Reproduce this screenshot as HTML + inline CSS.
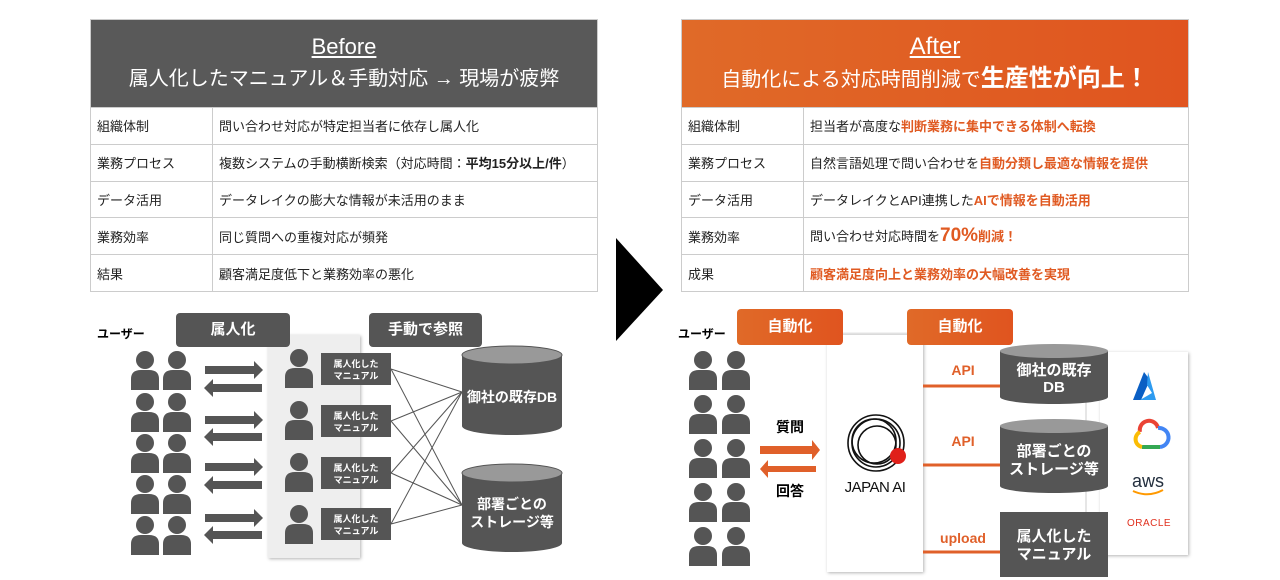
<!DOCTYPE html>
<html><head><meta charset="utf-8"><style>
*{margin:0;padding:0;box-sizing:border-box}
body{width:1280px;height:580px;background:#fff;position:relative;overflow:hidden;font-family:"Liberation Sans","Noto Sans CJK JP",sans-serif;color:#222}
.tbl{position:absolute;top:19px;width:508px;border:1px solid #ccc}
.hd{height:87px;color:#fff;text-align:center}
.hd .t1{font-size:22px;text-decoration:underline;padding-top:13px;line-height:28px}
.hd .t2{font-size:20px;line-height:30px;margin-top:3px}
.row{height:36.8px;border-top:1px solid #ccc;display:flex;font-size:13px;align-items:center}
.row .c1{padding-left:6px;height:100%;display:flex;align-items:center;border-right:1px solid #ccc}
.row .c2{padding-left:6px}
.o{color:#e05a22;font-weight:bold}
.lbl{position:absolute;border-radius:4px;color:#fff;font-weight:bold;font-size:15px;text-align:center;line-height:34px}
svg{position:absolute;left:0;top:0}
</style></head><body>
<div class="tbl" style="left:90px">
<div class="hd" style="background:#595959"><div class="t1">Before</div><div class="t2">属人化したマニュアル＆手動対応 → 現場が疲弊</div></div>
<div class="row"><div class="c1" style="width:122px">組織体制</div><div class="c2">問い合わせ対応が特定担当者に依存し属人化</div></div>
<div class="row"><div class="c1" style="width:122px">業務プロセス</div><div class="c2">複数システムの手動横断検索（対応時間：<b>平均15分以上/件</b>）</div></div>
<div class="row"><div class="c1" style="width:122px">データ活用</div><div class="c2">データレイクの膨大な情報が未活用のまま</div></div>
<div class="row"><div class="c1" style="width:122px">業務効率</div><div class="c2">同じ質問への重複対応が頻発</div></div>
<div class="row"><div class="c1" style="width:122px">結果</div><div class="c2">顧客満足度低下と業務効率の悪化</div></div>
</div>
<div class="tbl" style="left:681px">
<div class="hd" style="background:linear-gradient(90deg,#e06a28,#e0541f)"><div class="t1" style="font-size:24px">After</div><div class="t2">自動化による対応時間削減で<b style="font-size:24px">生産性が向上！</b></div></div>
<div class="row"><div class="c1" style="width:122px">組織体制</div><div class="c2">担当者が高度な<span class="o">判断業務に集中できる体制へ転換</span></div></div>
<div class="row"><div class="c1" style="width:122px">業務プロセス</div><div class="c2">自然言語処理で問い合わせを<span class="o">自動分類し最適な情報を提供</span></div></div>
<div class="row"><div class="c1" style="width:122px">データ活用</div><div class="c2">データレイクとAPI連携した<span class="o">AIで情報を自動活用</span></div></div>
<div class="row"><div class="c1" style="width:122px">業務効率</div><div class="c2">問い合わせ対応時間を<span class="o" style="font-size:19px">70%</span><span class="o">削減！</span></div></div>
<div class="row"><div class="c1" style="width:122px">成果</div><div class="c2"><span class="o">顧客満足度向上と業務効率の大幅改善を実現</span></div></div>
</div>

<svg width="1280" height="580" font-family="Liberation Sans,Noto Sans CJK JP,sans-serif">
<defs>
<symbol id="p" viewBox="0 0 28 40"><circle cx="14" cy="10" r="9" fill="#555"/><path d="M0 40 V29 Q0 20 10 20 H18 Q28 20 28 29 V40Z" fill="#555"/></symbol>
<filter id="sh"><feDropShadow dx="1" dy="1" stdDeviation="1.5" flood-opacity="0.3"/></filter>
</defs>
<polygon points="616,238 663,290 616,341" fill="#000"/>
<text x="97" y="338" font-size="12" font-weight="bold" fill="#000">ユーザー</text>
<g>
<use href="#p" x="131" y="350" width="28" height="40"/><use href="#p" x="163" y="350" width="28" height="40"/>
<use href="#p" x="131" y="392" width="28" height="40"/><use href="#p" x="163" y="392" width="28" height="40"/>
<use href="#p" x="131" y="433" width="28" height="40"/><use href="#p" x="163" y="433" width="28" height="40"/>
<use href="#p" x="131" y="474" width="28" height="40"/><use href="#p" x="163" y="474" width="28" height="40"/>
<use href="#p" x="131" y="515" width="28" height="40"/><use href="#p" x="163" y="515" width="28" height="40"/>
</g>
<g fill="#555">
<path d="M205 366h49v-5l9 9-9 9v-5h-49z"/><path d="M262 384h-49v-5l-9 9 9 9v-5h49z"/>
<path d="M205 416h49v-5l9 9-9 9v-5h-49z"/><path d="M262 433h-49v-5l-9 9 9 9v-5h49z"/>
<path d="M205 463h49v-5l9 9-9 9v-5h-49z"/><path d="M262 481h-49v-5l-9 9 9 9v-5h49z"/>
<path d="M205 514h49v-5l9 9-9 9v-5h-49z"/><path d="M262 531h-49v-5l-9 9 9 9v-5h49z"/>
</g>
<rect x="268" y="335" width="92" height="223" fill="#eee" filter="url(#sh)"/>
<use href="#p" x="285" y="348" width="28" height="40"/>
<use href="#p" x="285" y="400" width="28" height="40"/>
<use href="#p" x="285" y="452" width="28" height="40"/>
<use href="#p" x="285" y="504" width="28" height="40"/>
<g fill="#555">
<rect x="321" y="353" width="70" height="32"/><rect x="321" y="405" width="70" height="32"/><rect x="321" y="457" width="70" height="32"/><rect x="321" y="508" width="70" height="32"/>
</g>
<g fill="#fff" font-size="9" font-weight="bold" text-anchor="middle">
<text x="356" y="367">属人化した</text><text x="356" y="379">マニュアル</text>
<text x="356" y="419">属人化した</text><text x="356" y="431">マニュアル</text>
<text x="356" y="471">属人化した</text><text x="356" y="483">マニュアル</text>
<text x="356" y="522">属人化した</text><text x="356" y="534">マニュアル</text>
</g>
<g stroke="#555" stroke-width="1">
<line x1="391" y1="369" x2="462" y2="392"/><line x1="391" y1="369" x2="462" y2="505"/>
<line x1="391" y1="421" x2="462" y2="392"/><line x1="391" y1="421" x2="462" y2="505"/>
<line x1="391" y1="473" x2="462" y2="392"/><line x1="391" y1="473" x2="462" y2="505"/>
<line x1="391" y1="524" x2="462" y2="392"/><line x1="391" y1="524" x2="462" y2="505"/>
</g>
<g>
<path d="M462 355 V426 A50 9 0 0 0 562 426 V355Z" fill="#555"/><ellipse cx="512" cy="355" rx="50" ry="9" fill="#999" stroke="#555"/>
<path d="M462 473 V543 A50 9 0 0 0 562 543 V473Z" fill="#555"/><ellipse cx="512" cy="473" rx="50" ry="9" fill="#999" stroke="#555"/>
</g>
<g fill="#fff" font-size="14" font-weight="bold" text-anchor="middle">
<text x="512" y="402">御社の既存DB</text>
<text x="512" y="509">部署ごとの</text><text x="512" y="527">ストレージ等</text>
</g>
<line x1="843" y1="334" x2="907" y2="334" stroke="#e6e6e6" stroke-width="3"/>
<text x="678" y="338" font-size="12" font-weight="bold" fill="#000">ユーザー</text>
<g>
<use href="#p" x="689" y="350" width="28" height="40"/><use href="#p" x="722" y="350" width="28" height="40"/>
<use href="#p" x="689" y="394" width="28" height="40"/><use href="#p" x="722" y="394" width="28" height="40"/>
<use href="#p" x="689" y="438" width="28" height="40"/><use href="#p" x="722" y="438" width="28" height="40"/>
<use href="#p" x="689" y="482" width="28" height="40"/><use href="#p" x="722" y="482" width="28" height="40"/>
<use href="#p" x="689" y="526" width="28" height="40"/><use href="#p" x="722" y="526" width="28" height="40"/>
</g>
<g fill="#000" font-size="14" font-weight="bold" text-anchor="middle"><text x="790" y="432">質問</text><text x="790" y="496">回答</text></g>
<g fill="#e0602a">
<path d="M760 446h52v-6l8 10-8 10v-6h-52z"/><path d="M816 466h-48v-6l-8 9 8 9v-6h48z"/>
</g>
<rect x="827" y="335" width="96" height="237" fill="#fff" filter="url(#sh)"/>
<g fill="none" stroke="#111" stroke-width="1.6">
<circle cx="876" cy="443" r="28"/><circle cx="876" cy="443" r="24"/><circle cx="874" cy="441" r="22"/><circle cx="877" cy="445" r="19"/>
</g>
<circle cx="898" cy="456" r="8" fill="#e0201a"/>
<text x="875" y="492" font-size="15" fill="#111" text-anchor="middle" letter-spacing="-0.5">JAPAN AI</text>
<g stroke="#e0602a" stroke-width="3">
<line x1="923" y1="386" x2="1000" y2="386"/><line x1="923" y1="465" x2="1000" y2="465"/><line x1="923" y1="552" x2="1000" y2="552"/>
</g>
<g fill="#e0602a" font-size="14" font-weight="bold" text-anchor="middle">
<text x="963" y="375">API</text><text x="963" y="446">API</text><text x="963" y="543">upload</text>
</g>
<rect x="1100" y="352" width="88" height="203" fill="#fff" filter="url(#sh)"/>
<line x1="1086" y1="400" x2="1086" y2="515" stroke="#ccc"/>
<path d="M1000 351 V397 A54 7 0 0 0 1108 397 V351Z" fill="#555"/><ellipse cx="1054" cy="351" rx="54" ry="7" fill="#999"/>
<path d="M1000 426 V486 A54 7 0 0 0 1108 486 V426Z" fill="#555"/><ellipse cx="1054" cy="426" rx="54" ry="7" fill="#999"/>
<rect x="1000" y="512" width="108" height="65" fill="#555"/>
<g fill="#fff" font-size="15" font-weight="bold" text-anchor="middle">
<text x="1054" y="375">御社の既存</text><text x="1054" y="392">DB</text>
<text x="1054" y="456">部署ごとの</text><text x="1054" y="474">ストレージ等</text>
<text x="1054" y="541">属人化した</text><text x="1054" y="559">マニュアル</text>
</g>
<path d="M1144 372 L1133 400 H1141 L1150 380Z" fill="#0a5fc4"/><path d="M1148 372 L1156 400 H1140 L1152 393 L1147 385Z" fill="#2d9bf0"/>
<g fill="none" stroke-width="4">
<path d="M1140 432 A9 9 0 0 1 1158 428" stroke="#ea4335"/><path d="M1158 428 A8 8 0 0 1 1160 447" stroke="#4285f4"/>
<path d="M1160 447 H1142" stroke="#34a853"/><path d="M1142 447 A8 8 0 0 1 1140 432" stroke="#fbbc04"/>
</g>
<text x="1148" y="487" font-size="18" fill="#232f3e" text-anchor="middle">aws</text>
<path d="M1133 491 Q1148 498 1163 490" stroke="#f90" stroke-width="2" fill="none"/>
<text x="1149" y="526" font-size="10" fill="#e0301e" text-anchor="middle" letter-spacing="0.5">ORACLE</text>
</svg>
<div class="lbl" style="left:176px;top:313px;width:114px;height:34px;background:#555">属人化</div>
<div class="lbl" style="left:369px;top:313px;width:113px;height:34px;background:#555">手動で参照</div>
<div class="lbl" style="left:737px;top:309px;width:106px;height:36px;line-height:36px;background:linear-gradient(90deg,#e06a28,#e0541f)">自動化</div>
<div class="lbl" style="left:907px;top:309px;width:106px;height:36px;line-height:36px;background:linear-gradient(90deg,#e06a28,#e0541f)">自動化</div>
</body></html>
